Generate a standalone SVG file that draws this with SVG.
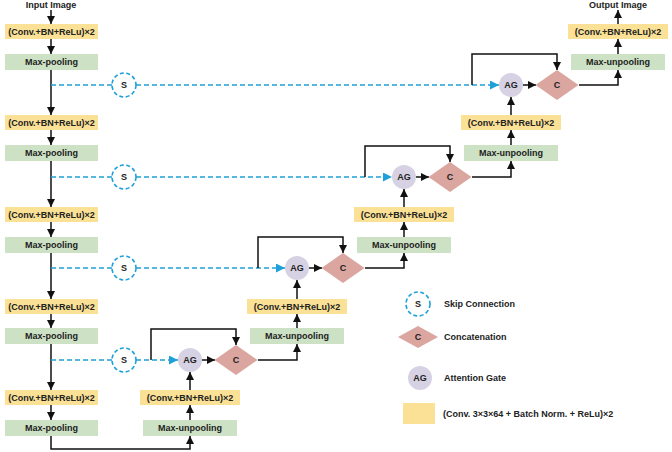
<svg xmlns="http://www.w3.org/2000/svg" width="672" height="452" viewBox="0 0 672 452">
<defs>
<marker id="ab" markerUnits="userSpaceOnUse" markerWidth="9" markerHeight="9" refX="8" refY="4" orient="auto"><path d="M0,0 L8,4 L0,8 z" fill="#111"/></marker>
<marker id="abl" markerUnits="userSpaceOnUse" markerWidth="10" markerHeight="10" refX="9" refY="4.5" orient="auto"><path d="M0,0 L9,4.5 L0,9 z" fill="#1fa0d8"/></marker>
<style>
.y{fill:#fae196}
.g{fill:#cde1c5}
.d{fill:#dba69f}
.ag{fill:#d7d2e3}
.s{fill:#fff;stroke:#1fa0d8;stroke-width:1.6;stroke-dasharray:4 2.5}
text{font-family:"Liberation Sans",Arial,sans-serif;font-weight:bold;font-size:9px;fill:#222;text-anchor:middle;dominant-baseline:central}
.lt{text-anchor:start}
.c line,.c path{stroke:#111;stroke-width:1.5;fill:none}
.c .k{stroke:#1fa0d8;stroke-dasharray:5 3}
</style>
</defs>
<rect width="672" height="452" fill="#fff"/>

<g id="connectors" class="c">
<!-- encoder -->
<line x1="51" y1="10" x2="51" y2="24" marker-end="url(#ab)"/>
<line x1="51" y1="39" x2="51" y2="54" marker-end="url(#ab)"/>
<line x1="51" y1="70" x2="51" y2="115" marker-end="url(#ab)"/>
<line x1="51" y1="130" x2="51" y2="145" marker-end="url(#ab)"/>
<line x1="51" y1="161" x2="51" y2="207" marker-end="url(#ab)"/>
<line x1="51" y1="222" x2="51" y2="237" marker-end="url(#ab)"/>
<line x1="51" y1="253" x2="51" y2="299" marker-end="url(#ab)"/>
<line x1="51" y1="314" x2="51" y2="328" marker-end="url(#ab)"/>
<line x1="51" y1="344" x2="51" y2="390" marker-end="url(#ab)"/>
<line x1="51" y1="405" x2="51" y2="420" marker-end="url(#ab)"/>
<path d="M51,436 V449 H190 V436" marker-end="url(#ab)"/>
<!-- decoder columns -->
<line x1="190" y1="420" x2="190" y2="405" marker-end="url(#ab)"/>
<line x1="190" y1="390" x2="190" y2="372" marker-end="url(#ab)"/>
<line x1="297" y1="328" x2="297" y2="314" marker-end="url(#ab)"/>
<line x1="297" y1="299" x2="297" y2="280" marker-end="url(#ab)"/>
<line x1="404" y1="237" x2="404" y2="222" marker-end="url(#ab)"/>
<line x1="404" y1="207" x2="404" y2="189" marker-end="url(#ab)"/>
<line x1="511" y1="145" x2="511" y2="130" marker-end="url(#ab)"/>
<line x1="511" y1="115" x2="511" y2="97" marker-end="url(#ab)"/>
<line x1="618" y1="54" x2="618" y2="39" marker-end="url(#ab)"/>
<line x1="618" y1="24" x2="618" y2="10" marker-end="url(#ab)"/>
<!-- skip level 3 (y=360) -->
<line class="k" x1="51" y1="360" x2="112" y2="360"/>
<line class="k" x1="136" y1="360" x2="178" y2="360" marker-end="url(#abl)"/>
<path d="M151,360 V329 H236 V345" marker-end="url(#ab)"/>
<line x1="202" y1="360" x2="215" y2="360" marker-end="url(#ab)"/>
<path d="M258,360 H297 V344" marker-end="url(#ab)"/>
<!-- skip level 2 (y=268) -->
<line class="k" x1="51" y1="268" x2="112" y2="268"/>
<line class="k" x1="136" y1="268" x2="285" y2="268" marker-end="url(#abl)"/>
<path d="M258,268 V237 H343 V253" marker-end="url(#ab)"/>
<line x1="309" y1="268" x2="322" y2="268" marker-end="url(#ab)"/>
<path d="M365,268 H404 V253" marker-end="url(#ab)"/>
<!-- skip level 1 (y=177) -->
<line class="k" x1="51" y1="177" x2="112" y2="177"/>
<line class="k" x1="136" y1="177" x2="392" y2="177" marker-end="url(#abl)"/>
<path d="M365,177 V146 H450 V162" marker-end="url(#ab)"/>
<line x1="416" y1="177" x2="429" y2="177" marker-end="url(#ab)"/>
<path d="M472,177 H511 V161" marker-end="url(#ab)"/>
<!-- skip level 0 (y=85) -->
<line class="k" x1="51" y1="85" x2="112" y2="85"/>
<line class="k" x1="136" y1="85" x2="499" y2="85" marker-end="url(#abl)"/>
<path d="M472,85 V54 H557 V70" marker-end="url(#ab)"/>
<line x1="523" y1="85" x2="536" y2="85" marker-end="url(#ab)"/>
<path d="M579,85 H618 V70" marker-end="url(#ab)"/>
</g>

<text x="51" y="5">Input Image</text>
<text x="618" y="5">Output Image</text>

<!-- encoder nodes -->
<g id="enc-conv-1"><rect class="y" x="5" y="24" width="93" height="15"/><text x="51.5" y="31.5">(Conv.+BN+ReLu)×2</text></g>
<g id="enc-pool-1"><rect class="g" x="5" y="54" width="93" height="16"/><text x="51.5" y="62">Max-pooling</text></g>
<g id="enc-conv-2"><rect class="y" x="5" y="115" width="93" height="15"/><text x="51.5" y="122.5">(Conv.+BN+ReLu)×2</text></g>
<g id="enc-pool-2"><rect class="g" x="5" y="145" width="93" height="16"/><text x="51.5" y="153">Max-pooling</text></g>
<g id="enc-conv-3"><rect class="y" x="5" y="207" width="93" height="15"/><text x="51.5" y="214.5">(Conv.+BN+ReLu)×2</text></g>
<g id="enc-pool-3"><rect class="g" x="5" y="237" width="93" height="16"/><text x="51.5" y="245">Max-pooling</text></g>
<g id="enc-conv-4"><rect class="y" x="5" y="299" width="93" height="15"/><text x="51.5" y="306.5">(Conv.+BN+ReLu)×2</text></g>
<g id="enc-pool-4"><rect class="g" x="5" y="328" width="93" height="16"/><text x="51.5" y="336">Max-pooling</text></g>
<g id="enc-conv-5"><rect class="y" x="5" y="390" width="93" height="15"/><text x="51.5" y="397.5">(Conv.+BN+ReLu)×2</text></g>
<g id="enc-pool-5"><rect class="g" x="5" y="420" width="93" height="16"/><text x="51.5" y="428">Max-pooling</text></g>

<!-- skip circles -->
<g id="skip-1"><circle class="s" cx="124" cy="85" r="12"/><text x="124" y="85">S</text></g>
<g id="skip-2"><circle class="s" cx="124" cy="177" r="12"/><text x="124" y="177">S</text></g>
<g id="skip-3"><circle class="s" cx="124" cy="268" r="12"/><text x="124" y="268">S</text></g>
<g id="skip-4"><circle class="s" cx="124" cy="360" r="12"/><text x="124" y="360">S</text></g>

<!-- decoder nodes -->
<g id="dec-unpool-1"><rect class="g" x="143" y="420" width="94" height="16"/><text x="190" y="428">Max-unpooling</text></g>
<g id="dec-conv-1"><rect class="y" x="140" y="390" width="100" height="15"/><text x="190" y="397.5">(Conv.+BN+ReLu)×2</text></g>
<g id="ag-1"><circle class="ag" cx="190" cy="360" r="12"/><text x="190" y="360">AG</text></g>
<g id="cat-1"><path class="d" d="M214.5,360 L236,345 L257.5,360 L236,375 z"/><text x="236" y="360">C</text></g>

<g id="dec-unpool-2"><rect class="g" x="250" y="328" width="94" height="16"/><text x="297" y="336">Max-unpooling</text></g>
<g id="dec-conv-2"><rect class="y" x="247" y="299" width="100" height="15"/><text x="297" y="306.5">(Conv.+BN+ReLu)×2</text></g>
<g id="ag-2"><circle class="ag" cx="297" cy="268" r="12"/><text x="297" y="268">AG</text></g>
<g id="cat-2"><path class="d" d="M321.5,268 L343,253 L364.5,268 L343,283 z"/><text x="343" y="268">C</text></g>

<g id="dec-unpool-3"><rect class="g" x="357" y="237" width="94" height="16"/><text x="404" y="245">Max-unpooling</text></g>
<g id="dec-conv-3"><rect class="y" x="354" y="207" width="100" height="15"/><text x="404" y="214.5">(Conv.+BN+ReLu)×2</text></g>
<g id="ag-3"><circle class="ag" cx="404" cy="177" r="12"/><text x="404" y="177">AG</text></g>
<g id="cat-3"><path class="d" d="M428.5,177 L450,162 L471.5,177 L450,192 z"/><text x="450" y="177">C</text></g>

<g id="dec-unpool-4"><rect class="g" x="464" y="145" width="94" height="16"/><text x="511" y="153">Max-unpooling</text></g>
<g id="dec-conv-4"><rect class="y" x="461" y="115" width="100" height="15"/><text x="511" y="122.5">(Conv.+BN+ReLu)×2</text></g>
<g id="ag-4"><circle class="ag" cx="511" cy="85" r="12"/><text x="511" y="85">AG</text></g>
<g id="cat-4"><path class="d" d="M535.5,85 L557,70 L578.5,85 L557,100 z"/><text x="557" y="85">C</text></g>

<g id="dec-unpool-5"><rect class="g" x="571" y="54" width="94" height="16"/><text x="618" y="62">Max-unpooling</text></g>
<g id="dec-conv-5"><rect class="y" x="568" y="24" width="100" height="15"/><text x="618" y="31.5">(Conv.+BN+ReLu)×2</text></g>

<!-- legend -->
<g id="legend-skip"><circle class="s" cx="418" cy="304" r="12"/><text x="418" y="304">S</text><text class="lt" x="444" y="304">Skip Connection</text></g>
<g id="legend-cat"><path class="d" d="M398,337 L418,326 L438,337 L418,348 z"/><text x="418" y="337">C</text><text class="lt" x="444" y="337">Concatenation</text></g>
<g id="legend-ag"><circle class="ag" cx="420" cy="378" r="12"/><text x="420" y="378">AG</text><text class="lt" x="444" y="378">Attention Gate</text></g>
<g id="legend-conv"><rect class="y" x="403" y="403" width="32" height="21"/><text class="lt" x="443" y="413.5">(Conv. 3×3×64 + Batch Norm. + ReLu)×2</text></g>
</svg>
